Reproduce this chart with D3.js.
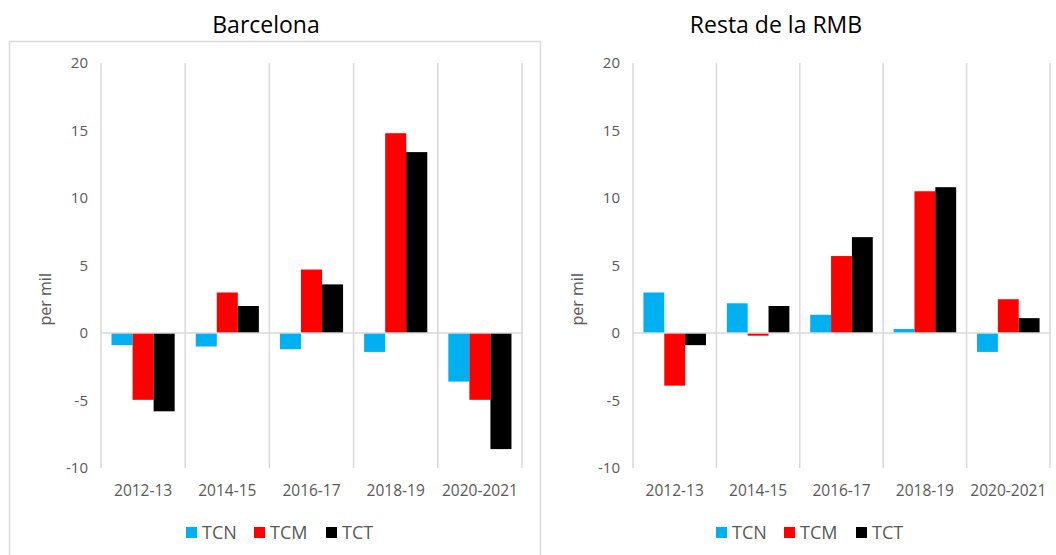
<!DOCTYPE html>
<html>
  <head>
    <meta charset="utf-8">
    <title>Barcelona / Resta de la RMB</title>
    <script src="https://d3js.org/d3.v7.min.js"></script>
    <style>
      body { margin: 0; background: #fff; }
      text { font-family: "Open Sans", sans-serif; }
    </style>
  </head>
  <body>
    <div id="chart"></div>
    <script>
      // data (per mil)
      var categories = ["2012-13", "2014-15", "2016-17", "2018-19", "2020-2021"];
      var seriesNames = ["TCN", "TCM", "TCT"];
      var seriesColors = ["#00b0f0", "#ff0000", "#000000"];
      var yTicks = [-10, -5, 0, 5, 10, 15, 20];

      var barcelonaTCN = [-0.9, -1.0, -1.2, -1.4, -3.6];
      var barcelonaTCM = [-4.95, 3.0, 4.7, 14.8, -4.95];
      var barcelonaTCT = [-5.8, 2.0, 3.6, 13.4, -8.6];

      var restaTCN = [3.0, 2.2, 1.35, 0.3, -1.4];
      var restaTCM = [-3.9, -0.2, 5.7, 10.5, 2.5];
      var restaTCT = [-0.9, 2.0, 7.1, 10.8, 1.1];

      var panels = [
        { title: "Barcelona", series: [barcelonaTCN, barcelonaTCM, barcelonaTCT],
          x0: 101, x1: 522, titleX: 266, legendX: 186 },
        { title: "Resta de la RMB", series: [restaTCN, restaTCM, restaTCT],
          x0: 633, x1: 1050, titleX: 776, legendX: 716 }
      ];

      var svg = d3.select("#chart").append("svg")
        .attr("width", 1056)
        .attr("height", 555);

      // chart area border
      svg.append("rect")
        .attr("x", 9.5).attr("y", 41.5)
        .attr("width", 531).attr("height", 600)
        .attr("fill", "none")
        .attr("stroke", "#d9d9d9")
        .attr("stroke-width", 1.5);

      var y = d3.scaleLinear().domain([-10, 20]).range([468, 63]);

      panels.forEach(function(p) {
        var g = svg.append("g");

        var x = d3.scaleBand().domain(categories).range([p.x0, p.x1]).padding(0);
        var xs = d3.scaleBand().domain(seriesNames).range([0, x.bandwidth()])
          .paddingInner(0).paddingOuter(0.5);

        // title
        g.append("text")
          .attr("x", p.titleX).attr("y", 33)
          .attr("text-anchor", "middle")
          .attr("font-size", 23)
          .attr("fill", "#000")
          .text(p.title);

        // vertical gridlines at category boundaries
        var bounds = categories.map(function(c) { return x(c); }).concat([p.x1]);
        g.selectAll(".vgrid")
          .data(bounds)
          .enter().append("line")
          .attr("x1", function(d) { return d; })
          .attr("x2", function(d) { return d; })
          .attr("y1", y(20)).attr("y2", y(-10))
          .attr("stroke", "#d9d9d9")
          .attr("stroke-width", 1.5);

        // y axis labels (plain hyphen minus like the original)
        var yAxis = d3.axisLeft(y).tickValues(yTicks).tickSize(0).tickPadding(0)
          .tickFormat(function(d) { return String(d); });
        var ya = g.append("g")
          .attr("transform", "translate(" + (p.x0 - 13) + ",0)")
          .call(yAxis);
        ya.select(".domain").remove();
        ya.selectAll("text")
          .attr("font-family", "Open Sans, sans-serif")
          .attr("font-size", 15)
          .attr("fill", "#595959");

        // y axis title
        g.append("text")
          .attr("transform", "translate(" + (p.x0 - 50) + "," + y(2.5) + ") rotate(-90)")
          .attr("text-anchor", "middle")
          .attr("font-size", 16)
          .attr("fill", "#595959")
          .text("per mil");

        // bars
        seriesNames.forEach(function(s, si) {
          g.selectAll(".bar-" + s)
            .data(p.series[si])
            .enter().append("rect")
            .attr("x", function(d, i) { return x(categories[i]) + xs(s); })
            .attr("width", xs.bandwidth())
            .attr("y", function(d) { return y(Math.max(0, d)); })
            .attr("height", function(d) { return Math.abs(y(d) - y(0)); })
            .attr("fill", seriesColors[si]);
        });

        // zero line
        g.append("line")
          .attr("x1", p.x0).attr("x2", p.x1)
          .attr("y1", y(0)).attr("y2", y(0))
          .attr("stroke", "#d9d9d9")
          .attr("stroke-width", 1.5);

        // x category labels
        var xAxis = d3.axisBottom(x).tickSize(0).tickPadding(0);
        var xa = g.append("g")
          .attr("transform", "translate(0,485)")
          .call(xAxis);
        xa.select(".domain").remove();
        xa.selectAll("text")
          .attr("font-family", "Open Sans, sans-serif")
          .attr("font-size", 15.5)
          .attr("fill", "#595959");

        // legend
        var lx = [0, 68, 140];
        var leg = g.selectAll(".legend")
          .data(seriesNames)
          .enter().append("g")
          .attr("transform", function(d, i) { return "translate(" + (p.legendX + lx[i]) + ",527)"; });
        leg.append("rect")
          .attr("width", 11).attr("height", 11)
          .attr("fill", function(d, i) { return seriesColors[i]; });
        leg.append("text")
          .attr("x", 16).attr("y", 12)
          .attr("font-size", 18)
          .attr("fill", "#595959")
          .text(function(d) { return d; });
      });
    </script>
  </body>
</html>
